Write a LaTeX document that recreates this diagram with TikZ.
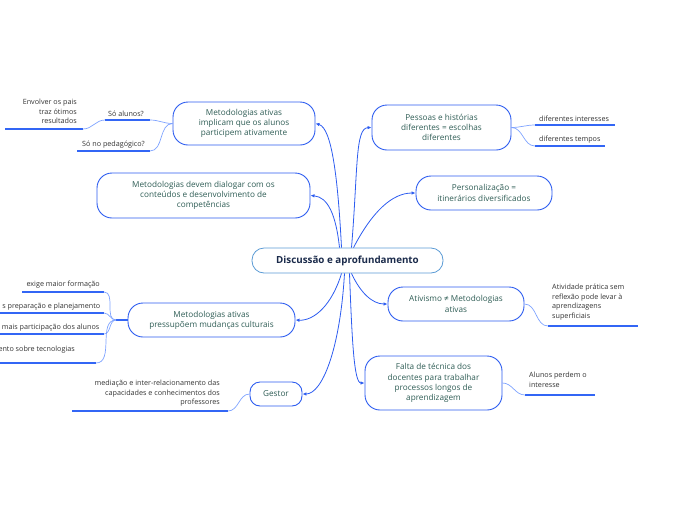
\documentclass[tikz,border=0pt]{standalone}
\usepackage{fontspec}
\setmainfont{Open Sans}
\usetikzlibrary{arrows.meta}
\definecolor{nodeb}{HTML}{2C5CF0}
\definecolor{centb}{HTML}{5B9BD5}
\definecolor{ntext}{HTML}{2F5D55}
\definecolor{ctext}{HTML}{1B2B4B}
\definecolor{ltext}{HTML}{333333}
\definecolor{ulin}{HTML}{3366F5}
\definecolor{lconn}{HTML}{7FA3FF}
\begin{document}
\begin{tikzpicture}[x=1pt,y=-1pt,
  mainbox/.style={draw=nodeb,line width=0.9pt,rounded corners=15pt,fill=white,inner sep=0pt,align=center,text=ntext,font=\fontsize{8.2}{10.2}\selectfont},
  centbox/.style={draw=centb,line width=0.8pt,rounded corners=12pt,fill=white,inner sep=0pt,align=center,text=ctext,font=\fontsize{9.8}{11}\selectfont\bfseries},
  leaftext/.style={inner sep=0pt,text=ltext,font=\fontsize{7.2}{9.6}\selectfont},
  uline/.style={draw=ulin,line width=1.8pt},
  lconnect/.style={draw=lconn,line width=0.7pt},
  mconnect/.style={draw=nodeb,line width=0.8pt,-{Latex[length=4pt,width=3.5pt]}}]
\useasboundingbox (0,0) rectangle (696,520);
% central
\node[centbox,minimum width=191pt,minimum height=25pt] (c) at (347.5,260.5) {Discussão e aprofundamento};
% main nodes
\node[mainbox,minimum width=142pt,minimum height=43pt] (m1) at (244,123.5) {Metodologias ativas\\implicam que os alunos\\participem ativamente};
\node[mainbox,minimum width=213pt,minimum height=45pt] (m2) at (203.5,195.5) {Metodologias devem dialogar com os\\conteúdos e desenvolvimento de\\competências};
\node[mainbox,minimum width=167pt,minimum height=34pt] (m3) at (211.5,320) {Metodologias ativas\\pressupõem mudanças culturais};
\node[mainbox,minimum width=52pt,minimum height=24pt,rounded corners=10pt] (m4) at (276,394) {Gestor};
\node[mainbox,minimum width=139pt,minimum height=45pt] (r1) at (441.5,127.5) {Pessoas e histórias\\diferentes = escolhas\\diferentes};
\node[mainbox,minimum width=136pt,minimum height=34pt] (r2) at (484,193) {Personalização =\\itinerários diversificados};
\node[mainbox,minimum width=136pt,minimum height=34pt] (r3) at (456,304) {Ativismo ≠ Metodologias\\ativas};
\node[mainbox,minimum width=137pt,minimum height=54pt] (r4) at (433.5,383) {Falta de técnica dos\\docentes para trabalhar\\processos longos de\\aprendizagem};
% main connectors
\draw[mconnect] (c.north) ++(-6,0) coordinate (c1) .. controls (338,180) and (332,128) .. (m1.east);
\draw[mconnect] (c.north) ++(-8,0) coordinate (c2) .. controls (336,215) and (328,197) .. (m2.east);
\draw[mconnect] (c.south) ++(-6,0) coordinate (c3) .. controls (332,305) and (314,321) .. (m3.east);
\draw[mconnect] (c.south) ++(-3,0) coordinate (c4) .. controls (340,350) and (322,394) .. (m4.east);
\draw[mconnect] (c.north) ++(4,0) coordinate (c5) .. controls (358,170) and (355,128) .. (r1.west);
\draw[mconnect] (c.north) ++(6,0) coordinate (c6) .. controls (372,212) and (392,193) .. (r2.west);
\draw[mconnect] (c.south) ++(4,0) coordinate (c7) .. controls (360,292) and (372,304) .. (r3.west);
\draw[mconnect] (c.south) ++(2,0) coordinate (c8) .. controls (352,340) and (354,383) .. (r4.west);
% leaves of m1
\node[leaftext,anchor=base east] (sa) at (144,116) {Só alunos?};
\coordinate (sa1) at (105,120); \coordinate (sa2) at (150,120);
\draw[uline] (sa1) -- (sa2);
\draw[lconnect] (m1.west) to[out=180,in=0] (sa2);
\node[leaftext,anchor=north east,align=right] (ep) at (77,99) {Envolver os pais\\traz ótimos\\resultados};
\coordinate (ep1) at (5,129); \coordinate (ep2) at (83,129);
\draw[uline] (ep1) -- (ep2);
\draw[lconnect] (sa1) to[out=180,in=0] (ep2);
\node[leaftext,anchor=base east] (sp) at (145,146) {Só no pedagógico?};
\coordinate (sp1) at (77,151); \coordinate (sp2) at (150,151);
\draw[uline] (sp1) -- (sp2);
\draw[lconnect] (m1.west) to[out=180,in=0] (sp2);
% leaves of m3
\coordinate (b3) at (116,320);
\draw[uline,line width=1.4pt] (m3.west) -- (b3);
\node[leaftext,anchor=base east] (l1) at (100,286) {exige maior formação};
\coordinate (l1a) at (22,292); \coordinate (l1b) at (104,292);
\draw[uline] (l1a) -- (l1b);
\node[leaftext,anchor=base east] (l2) at (100.5,308) {s preparação e planejamento};
\coordinate (l2a) at (0,313); \coordinate (l2b) at (104,313);
\draw[uline] (l2a) -- (l2b);
\node[leaftext,anchor=base east] (l3) at (99.5,329) {mais participação dos alunos};
\coordinate (l3a) at (0,334); \coordinate (l3b) at (104,334);
\draw[uline] (l3a) -- (l3b);
\node[leaftext,anchor=base east] (l4) at (75,351) {ento sobre tecnologias};
\coordinate (l4a) at (0,363); \coordinate (l4b) at (96,363);
\draw[uline] (l4a) -- (l4b);
\foreach \t in {l1b,l2b,l3b,l4b} \draw[lconnect] (b3) to[out=180,in=0] (\t);
% leaf of gestor
\node[leaftext,anchor=north east,align=right] (ge) at (220,380) {mediação e inter-relacionamento das\\capacidades e conhecimentos dos\\professores};
\coordinate (ge1) at (72,411); \coordinate (ge2) at (228,411);
\draw[uline] (ge1) -- (ge2);
\draw[lconnect] (m4.west) to[out=180,in=0] (ge2);
% leaves of r1
\node[leaftext,anchor=base west] (di) at (539,121) {diferentes interesses};
\coordinate (di1) at (535,125); \coordinate (di2) at (615,125);
\draw[uline] (di1) -- (di2);
\draw[lconnect] (r1.east) to[out=0,in=180] (di1);
\node[leaftext,anchor=base west] (dt) at (539,141) {diferentes tempos};
\coordinate (dt1) at (535,146); \coordinate (dt2) at (605,146);
\draw[uline] (dt1) -- (dt2);
\draw[lconnect] (r1.east) to[out=0,in=180] (dt1);
% leaf of r3
\node[leaftext,anchor=north west,align=left] (ap) at (552,284) {Atividade prática sem\\reflexão  pode levar à\\aprendizagens\\superficiais};
\coordinate (ap1) at (548,326); \coordinate (ap2) at (638,326);
\draw[uline] (ap1) -- (ap2);
\draw[lconnect] (r3.east) to[out=0,in=180] (ap1);
% leaf of r4
\node[leaftext,anchor=north west,align=left] (al) at (529,372) {Alunos perdem o\\interesse};
\coordinate (al1) at (525,395); \coordinate (al2) at (595,395);
\draw[uline] (al1) -- (al2);
\draw[lconnect] (r4.east) to[out=0,in=180] (al1);
\end{tikzpicture}
\end{document}
